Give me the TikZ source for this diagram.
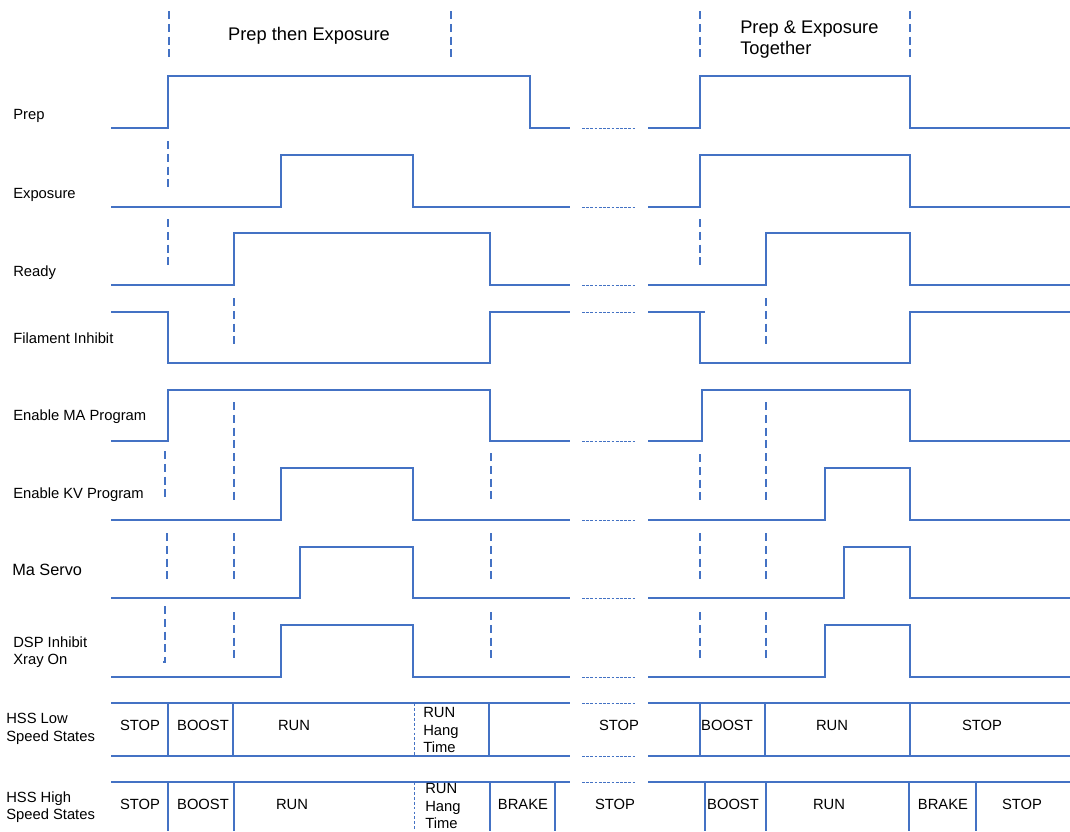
\documentclass[tikz,border=0pt]{standalone}
\usepackage{fontspec}
\setmainfont{Liberation Sans}
\definecolor{wireblue}{RGB}{68,114,196}

\begin{document}
\begin{tikzpicture}[x=0.025cm,y=-0.025cm,
    wave/.style={draw=wireblue, line width=0.8pt},
    brk/.style={draw=wireblue, line width=0.6pt, dash pattern=on 2pt off 1pt},
    hang/.style={draw=wireblue, line width=0.6pt, dash pattern=on 2pt off 1.5pt},
    tick/.style={draw=wireblue, line width=1.5pt, dash pattern=on 5.7pt off 3.4pt},
    lbl/.style={anchor=west, align=left, inner sep=0pt, font=\fontsize{10.5}{12.5}\selectfont},
    st/.style={inner sep=0pt, font=\fontsize{10.5}{12.5}\selectfont}]
    \useasboundingbox (0,0) rectangle (1070,831);

    % titles
    \node[font=\fontsize{13}{15}\selectfont] (titleA) at (309,36) {Prep then Exposure};
    \node[anchor=west, align=left, inner sep=0pt, font=\fontsize{13}{15}\selectfont] (titleB) at (740,40) {Prep \& Exposure\\Together};

    % row labels
    \node[lbl] (prepLbl) at (13,116) {Prep};
    \node[lbl] (expLbl) at (13,195) {Exposure};
    \node[lbl] (readyLbl) at (13,273) {Ready};
    \node[lbl] (filLbl) at (13,338) {Filament Inhibit};
    \node[lbl] (maLbl) at (13,417) {Enable MA Program};
    \node[lbl] (kvLbl) at (13,495) {Enable KV Program};
    \node[lbl, font=\fontsize{11.6}{13}\selectfont] (servoLbl) at (12,570) {Ma Servo};
    \node[lbl] (dspLbl) at (13,652) {DSP Inhibit\\Xray On};
    \node[lbl] (lowLbl) at (6,729) {HSS Low\\Speed States};
    \node[lbl] (highLbl) at (6,807) {HSS High\\Speed States};

    % waveforms, left then right
    \draw[wave] (111,128) -- (168,128) -- (168,76) -- (530,76) -- (530,128) -- (570,128);
    \draw[wave] (648,128) -- (700,128) -- (700,76) -- (910,76) -- (910,128) -- (1070,128);
    \draw[wave] (111,207) -- (281,207) -- (281,155) -- (413,155) -- (413,207) -- (570,207);
    \draw[wave] (648,207) -- (700,207) -- (700,155) -- (910,155) -- (910,207) -- (1070,207);
    \draw[wave] (111,285) -- (234,285) -- (234,233) -- (490,233) -- (490,285) -- (570,285);
    \draw[wave] (648,285) -- (766,285) -- (766,233) -- (910,233) -- (910,285) -- (1070,285);
    \draw[wave] (111,312) -- (168,312) -- (168,363) -- (490,363) -- (490,312) -- (570,312);
    \draw[wave] (648,312) -- (705,312) (700,312) -- (700,363) -- (910,363) -- (910,312) -- (1070,312);
    \draw[wave] (111,441) -- (168,441) -- (168,390) -- (490,390) -- (490,441) -- (570,441);
    \draw[wave] (648,441) -- (702,441) -- (702,390) -- (910,390) -- (910,441) -- (1070,441);
    \draw[wave] (111,520) -- (281,520) -- (281,468) -- (413,468) -- (413,520) -- (570,520);
    \draw[wave] (648,520) -- (825,520) -- (825,468) -- (910,468) -- (910,520) -- (1070,520);
    \draw[wave] (111,598) -- (300,598) -- (300,547) -- (413,547) -- (413,598) -- (570,598);
    \draw[wave] (648,598) -- (844,598) -- (844,547) -- (910,547) -- (910,598) -- (1070,598);
    \draw[wave] (111,677) -- (281,677) -- (281,625) -- (413,625) -- (413,677) -- (570,677);
    \draw[wave] (648,677) -- (825,677) -- (825,625) -- (910,625) -- (910,677) -- (1070,677);

    % breaks between the two cases
    \foreach \y in {128,207,285,312,441,520,598,677,703,756,782}
        \draw[brk] (582,\y) -- (636,\y);

    % HSS low speed states
    \draw[wave] (111,703) -- (570,703) (111,756) -- (570,756);
    \draw[wave] (648,703) -- (1070,703) (648,756) -- (1070,756);
    \foreach \x in {168,233,489,700,765,910}
        \draw[wave] (\x,703) -- (\x,756);
    \draw[hang] (414,703) -- (414,756);
    \node[st] (lowStopA) at (140,725) {STOP};
    \node[st] (lowBoostA) at (203,725) {BOOST};
    \node[st] (lowRunA) at (294,725) {RUN};
    \node[st, anchor=west, align=left] (lowHang) at (423,730) {RUN\\Hang\\Time};
    \node[st] (lowStopB) at (619,725) {STOP};
    \node[st] (lowBoostB) at (727,725) {BOOST};
    \node[st] (lowRunB) at (832,725) {RUN};
    \node[st] (lowStopC) at (982,725) {STOP};

    % HSS high speed states
    \draw[wave] (111,782) -- (570,782) (648,782) -- (1070,782);
    \foreach \x in {168,234,490,555,705,766,909,976}
        \draw[wave] (\x,782) -- (\x,831);
    \draw[hang] (414,782) -- (414,831);
    \node[st] (highStopA) at (140,804) {STOP};
    \node[st] (highBoostA) at (203,804) {BOOST};
    \node[st] (highRunA) at (292,804) {RUN};
    \node[st, anchor=west, align=left] (highHang) at (425,806) {RUN\\Hang\\Time};
    \node[st] (highBrakeA) at (523,804) {BRAKE};
    \node[st] (highStopB) at (615,804) {STOP};
    \node[st] (highBoostB) at (733,804) {BOOST};
    \node[st] (highRunB) at (829,804) {RUN};
    \node[st] (highBrakeB) at (943,804) {BRAKE};
    \node[st] (highStopC) at (1022,804) {STOP};

    % timing markers
    \foreach \x/\a/\b in {169/11/60, 451/11/57, 700/11/60, 910/11/57,
            168/141/188, 168/219/267, 700/219/267,
            234/298/345, 766/298/345, 234/402/502, 766/402/502,
            165/451/498, 491/453/502, 700/454/502,
            167/533/580, 234/533/580, 491/533/580, 700/533/580, 766/533/580,
            165/606/660, 234/612/658, 491/612/658, 700/612/658, 766/612/658}
        \draw[tick] (\x,\a) -- (\x,\b);
    \draw[wave, line width=1.2pt] (165,659) -- (165,662) -- (163,662);
\end{tikzpicture}
\end{document}
